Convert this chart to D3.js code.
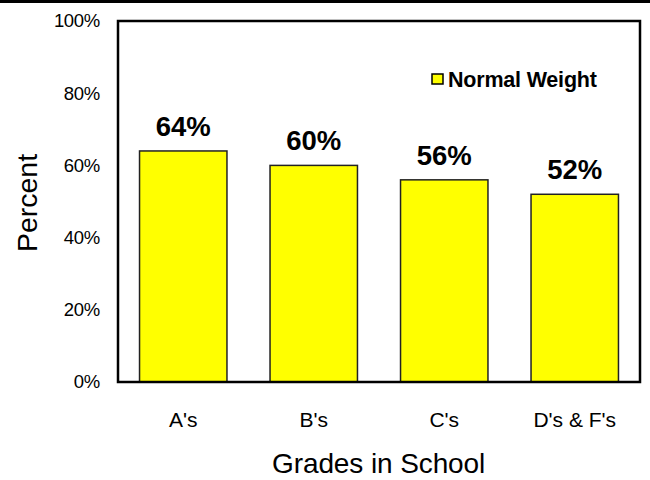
<!DOCTYPE html>
<html>
<head>
<meta charset="utf-8">
<script src="https://cdn.jsdelivr.net/npm/d3@7"></script>
<style>
  body { margin: 0; background: #fff; }
  text { font-family: "Liberation Sans", Arial, sans-serif; }
</style>
</head>
<body>
<div id="chart"></div>
<script>
let grades = ["A's", "B's", "C's", "D's & F's"];
let normalWeight = [64, 60, 56, 52];
let yTicks = [0, 20, 40, 60, 80, 100];
let seriesName = "Normal Weight";

let outerWidth = 650, outerHeight = 480;
let margin = { "top": 21, "bottom": 98, "right": 10, "left": 118 };
let width = outerWidth - margin.left - margin.right;
let height = outerHeight - margin.top - margin.bottom;

let svg = d3.select('#chart')
    .append('svg')
    .attr('width', outerWidth)
    .attr('height', outerHeight);

// black strip along the top edge
svg.append('rect')
    .attr('x', 0).attr('y', 0)
    .attr('width', outerWidth).attr('height', 3)
    .attr('fill', '#000');

let xScale = d3.scaleBand()
    .domain(grades)
    .range([0, width])
    .paddingInner(0.33)
    .paddingOuter(0.165);
let yScale = d3.scaleLinear()
    .domain([0, 100])
    .range([height, 0]);

let g = svg.append('g')
    .attr('transform', 'translate(' + margin.left + ',' + margin.top + ')');

// y axis labels
let yAxis = d3.axisLeft(yScale)
    .tickValues(yTicks)
    .tickSize(0)
    .tickPadding(18)
    .tickFormat(function (d) { return d + '%'; });
g.append('g')
    .attr('class', 'y_axis')
    .call(yAxis)
    .call(function (a) {
        a.select('.domain').remove();
        a.selectAll('text')
            .attr('font-size', 18.5)
            .attr('font-family', '"Liberation Sans", Arial, sans-serif')
            .attr('letter-spacing', -0.3)
            .attr('fill', '#000');
    });

// x axis labels
let xAxis = d3.axisBottom(xScale)
    .tickSize(0)
    .tickPadding(30);
g.append('g')
    .attr('class', 'x_axis')
    .attr('transform', 'translate(0,' + height + ')')
    .call(xAxis)
    .call(function (a) {
        a.select('.domain').remove();
        a.selectAll('text')
            .attr('font-size', 21)
            .attr('font-family', '"Liberation Sans", Arial, sans-serif')
            .attr('fill', '#000');
    });

// bars
g.selectAll('rect.bar')
    .data(normalWeight)
    .enter()
    .append('rect')
    .attr('class', 'bar')
    .attr('x', function (d, i) { return xScale(grades[i]); })
    .attr('y', function (d) { return yScale(d); })
    .attr('width', xScale.bandwidth())
    .attr('height', function (d) { return height - yScale(d); })
    .attr('fill', '#ffff00')
    .attr('stroke', '#222')
    .attr('stroke-width', 1.5);

// value labels
g.selectAll('text.value')
    .data(normalWeight)
    .enter()
    .append('text')
    .attr('class', 'value')
    .attr('x', function (d, i) { return xScale(grades[i]) + xScale.bandwidth() / 2; })
    .attr('y', function (d) { return yScale(d) - 15; })
    .attr('text-anchor', 'middle')
    .attr('font-size', 27.5)
    .attr('font-weight', 'bold')
    .text(function (d) { return d + '%'; });

// plot frame
g.append('rect')
    .attr('x', 0).attr('y', 0)
    .attr('width', width).attr('height', height)
    .attr('fill', 'none')
    .attr('stroke', '#000')
    .attr('stroke-width', 2.5);

// legend
let legend = g.append('g')
    .attr('transform', 'translate(' + (width - 208) + ',' + 53 + ')');
legend.append('rect')
    .attr('x', 0).attr('y', 0)
    .attr('width', 11).attr('height', 10)
    .attr('fill', '#ffff00')
    .attr('stroke', '#000')
    .attr('stroke-width', 1.5);
legend.append('text')
    .attr('x', 16).attr('y', 13)
    .attr('font-size', 21.5)
    .attr('font-weight', 'bold')
    .attr('letter-spacing', -0.2)
    .text(seriesName);

// axis titles
svg.append('text')
    .attr('x', 272)
    .attr('y', 473)
    .attr('font-size', 28)
    .attr('letter-spacing', -0.1)
    .text('Grades in School');
svg.append('text')
    .attr('transform', 'translate(37,203) rotate(-90)')
    .attr('text-anchor', 'middle')
    .attr('font-size', 28.5)
    .text('Percent');
</script>
</body>
</html>
